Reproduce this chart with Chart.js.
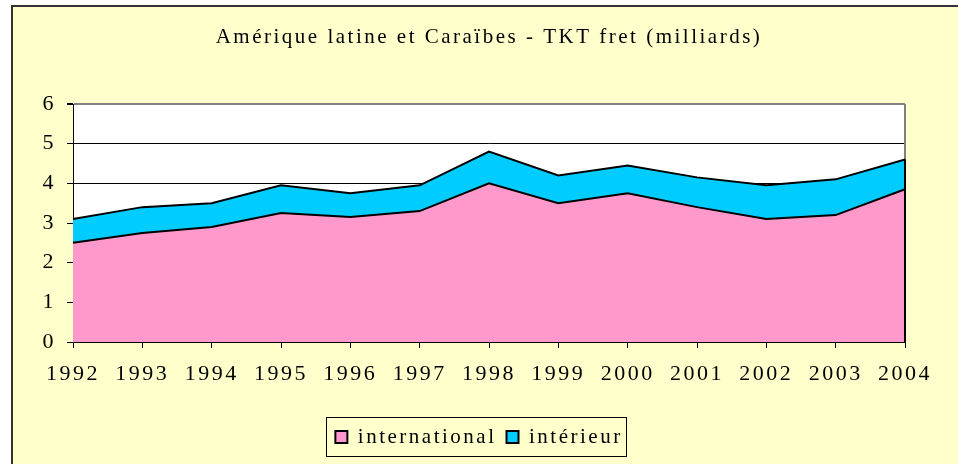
<!DOCTYPE html>
<html>
<head>
<meta charset="utf-8">
<script src="https://cdn.jsdelivr.net/npm/chart.js@4"></script>
<style>
  html, body { margin: 0; padding: 0; background: #ffffff; }
  #frame {
    position: absolute; left: 11px; top: 5px; width: 960px; height: 470px;
    background: #ffffcc; border-left: 2px solid #333; border-top: 2px solid #333;
  }
  #chart { position: absolute; left: 0; top: 0; }
</style>
</head>
<body>
<div id="frame"></div>
<canvas id="chart" width="958" height="464"></canvas>
<script>
const years = ["1992", "1993", "1994", "1995", "1996", "1997", "1998", "1999", "2000", "2001", "2002", "2003", "2004"]
const international = [2.5, 2.75, 2.9, 3.25, 3.15, 3.3, 4.0, 3.5, 3.75, 3.4, 3.1, 3.2, 3.85]
const interieur = [0.6, 0.65, 0.6, 0.7, 0.6, 0.65, 0.8, 0.7, 0.7, 0.75, 0.85, 0.9, 0.75]
const yTicks = [0, 1, 2, 3, 4, 5, 6]

const serif = "'Liberation Serif', 'Times New Roman', serif"

// Excel-style loose text: canvas letter spacing, set before layout and draw
const spacing = {
  id: "spacing",
  beforeLayout(chart) { chart.ctx.letterSpacing = "2.5px" },
  beforeDraw(chart) { chart.ctx.letterSpacing = "2.5px" }
}

const plotFrame = {
  id: "plotFrame",
  beforeDraw(chart) {
    const { ctx, chartArea: a } = chart
    ctx.save()
    ctx.fillStyle = "#ffffff"
    ctx.fillRect(a.left, a.top, a.right - a.left, a.bottom - a.top)
    ctx.restore()
  },
  beforeDatasetsDraw(chart) {
    const { ctx, chartArea: a } = chart
    ctx.save()
    ctx.strokeStyle = "#808080"
    ctx.lineWidth = 2
    ctx.beginPath()
    ctx.moveTo(a.right, a.top)
    ctx.lineTo(a.right, a.bottom)
    ctx.stroke()
    ctx.restore()
  },
  afterDatasetsDraw(chart) {
    const { ctx, chartArea: a, scales } = chart
    const last = years.length - 1
    const top = scales.y.getPixelForValue(international[last] + interieur[last])
    ctx.save()
    ctx.strokeStyle = "#000000"
    ctx.lineWidth = 2
    ctx.beginPath()
    ctx.moveTo(a.right, top)
    ctx.lineTo(a.right, a.bottom)
    ctx.stroke()
    ctx.restore()
  },
  afterDraw(chart) {
    const legend = chart.legend
    const boxes = legend.legendHitBoxes
    if (!boxes || !boxes.length) return
    const left = Math.min(...boxes.map(b => b.left)) - 9
    const right = Math.max(...boxes.map(b => b.left + b.width)) + 4
    const { ctx } = chart
    ctx.save()
    ctx.strokeStyle = "#000000"
    ctx.lineWidth = 1
    ctx.strokeRect(Math.round(left) + 0.5, Math.round(legend.top) + 0.5, Math.round(right - left), 39)
    ctx.restore()
  }
}

new Chart(document.getElementById("chart"), {
  type: "line",
  data: {
    labels: years,
    datasets: [{
      label: "international",
      data: international,
      backgroundColor: "#ff99cc",
      borderColor: "#000000",
      borderWidth: 2,
      pointRadius: 0,
      tension: 0,
      fill: "origin"
    }, {
      label: "intérieur",
      data: interieur,
      backgroundColor: "#00ccff",
      borderColor: "#000000",
      borderWidth: 2,
      pointRadius: 0,
      tension: 0,
      fill: "-1"
    }]
  },
  options: {
    responsive: false,
    animation: false,
    devicePixelRatio: 1,
    layout: {
      padding: { left: 0, right: 0, top: 0, bottom: 6.5 }
    },
    plugins: {
      title: {
        display: true,
        fullSize: false,
        text: "Amérique latine et Caraïbes - TKT fret (milliards)",
        color: "#000000",
        font: { family: serif, size: 21, weight: "normal" },
        padding: { top: 25, bottom: 53.8 }
      },
      legend: {
        position: "bottom",
        labels: {
          color: "#000000",
          font: { family: serif, size: 21 },
          boxWidth: 12,
          boxHeight: 12,
          padding: 10
        }
      },
      tooltip: { enabled: false }
    },
    scales: {
      x: {
        offset: false,
        afterFit: (scale) => { scale.height = 74.5 },
        grid: {
          drawOnChartArea: false,
          drawTicks: true,
          tickLength: 6,
          tickColor: "#000000"
        },
        border: { display: true, color: "#000000", width: 1 },
        ticks: {
          color: "#000000",
          padding: 13,
          maxRotation: 0,
          autoSkip: false,
          font: { family: serif, size: 22 }
        }
      },
      y: {
        stacked: true,
        min: 0,
        max: 6,
        afterFit: (scale) => { scale.width = 73 },
        afterBuildTicks: (scale) => { scale.ticks = yTicks.map(v => ({ value: v })) },
        grid: {
          color: (ctx) => (ctx.tick && ctx.tick.value === 6 ? "#808080" : "#000000"),
          lineWidth: (ctx) => (ctx.tick && ctx.tick.value === 6 ? 2 : 1),
          tickLength: 6,
          tickColor: "#000000"
        },
        border: { display: true, color: "#000000", width: 1 },
        ticks: {
          color: "#000000",
          padding: 11,
          font: { family: serif, size: 22 }
        }
      },
      // empty right-hand axis that only reserves the margin right of the plot
      right: {
        type: "linear",
        position: "right",
        afterFit: (scale) => { scale.width = 53 },
        grid: { display: false },
        border: { display: false },
        ticks: { display: false }
      }
    }
  },
  plugins: [spacing, plotFrame]
})
</script>
</body>
</html>
